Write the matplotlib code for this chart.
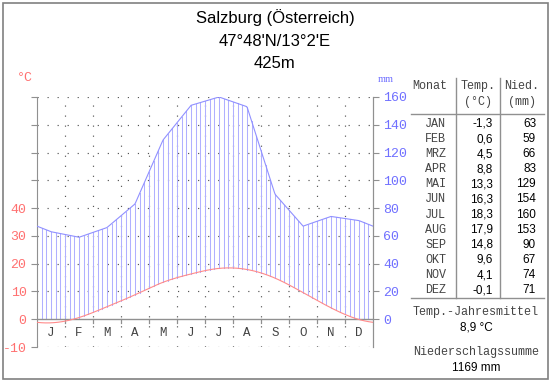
import matplotlib
matplotlib.use("Agg")
import matplotlib.pyplot as plt
import numpy as np

# climate data Salzburg
station = "Salzburg (Österreich)"
coords = "47°48'N/13°2'E"
height = "425m"
months = ["JAN", "FEB", "MRZ", "APR", "MAI", "JUN", "JUL", "AUG", "SEP", "OKT", "NOV", "DEZ"]
month_letters = ["J", "F", "M", "A", "M", "J", "J", "A", "S", "O", "N", "D"]
temp = [-1.3, 0.6, 4.5, 8.8, 13.3, 16.3, 18.3, 17.9, 14.8, 9.6, 4.1, -0.1]
prec = [63, 59, 66, 83, 129, 154, 160, 153, 90, 67, 74, 71]
temp_mean = "8,9 °C"
prec_sum = "1169 mm"

RED = "#ff7070"
BLUE = "#7070ff"
GRAY = "#909090"
MONO = "Liberation Mono"
SANS = "Liberation Sans"

W, H = 550, 382


def px(x, y):
    # pixel coords (top-left origin) -> figure fraction
    return x / W, 1 - y / H


def periodic_spline(y, xs):
    # cyclic cubic spline through month centres (uniform spacing 1, period 12)
    y = np.asarray(y, dtype=float)
    n = len(y)
    A = np.zeros((n, n))
    b = np.zeros(n)
    for i in range(n):
        A[i, i] = 4
        A[i, (i - 1) % n] = 1
        A[i, (i + 1) % n] = 1
        b[i] = 6 * (y[(i + 1) % n] - 2 * y[i] + y[(i - 1) % n])
    M = np.linalg.solve(A, b)
    out = []
    for x in xs:
        t = (x - 0.5) % n
        i = int(np.floor(t))
        j = (i + 1) % n
        u = t - i
        v = 1 - u
        out.append(M[i] * v**3 / 6 + M[j] * u**3 / 6 + (y[i] - M[i] / 6) * v + (y[j] - M[j] / 6) * u)
    return np.array(out)


fig = plt.figure(figsize=(5.5, 3.82), dpi=100)
ax = fig.add_axes([37 / W, 35 / H, 336 / W, 250 / H])
ax.set_xlim(0, 12)
ax.set_ylim(-10, 80)

centres = np.arange(12) + 0.5
xs = np.linspace(0, 12, 400)
t_curve = periodic_spline(temp, xs)
p_half = np.array(prec) / 2.0  # 20 mm = 10 °C

# grid (dotted, ~9 px between dots)
dots = (0, (1, 7.5))
for lev in range(-10, 81, 10):
    if lev != 0:
        ax.plot([0, 12], [lev, lev], color="#555555", lw=0.85, ls=dots, zorder=1)
for m in range(1, 12):
    ax.plot([m, m], [-10, 80], color="#555555", lw=0.85, ls=dots, zorder=1)

# humid hatch
hx = np.arange(0, 73) / 6.0
ht = periodic_spline(temp, hx)
hp = np.interp(hx, centres, p_half, period=12)
for x, t, p in zip(hx, ht, hp):
    lo = max(t, 0)
    if p > lo:
        ax.plot([x, x], [lo, p], color="#b0b0ff", lw=0.75, zorder=2)

ax.plot(xs, np.interp(xs, centres, p_half, period=12), color="#9090ff", lw=0.8, zorder=3)
ax.plot([0, 12], [0, 0], color=GRAY, lw=1, zorder=3)
ax.plot(xs, t_curve, color="#ff8a8a", lw=0.8, zorder=4)

# month ticks and letters
for m in range(1, 12):
    ax.plot([m, m], [0, -1.5], color=GRAY, lw=0.9, zorder=3)
for i, lab in enumerate(month_letters):
    ax.text(i + 0.5, -5, lab, ha="center", va="center", family=MONO, fontsize=9, color="#444444")

for s in ["top", "bottom"]:
    ax.spines[s].set_visible(False)
for s in ["left", "right"]:
    ax.spines[s].set_color(GRAY)
ax.set_xticks([])
ax.set_yticks(range(-10, 81, 10))
ax.set_yticklabels([str(v) if v <= 40 else "" for v in range(-10, 81, 10)])
ax.tick_params(axis="y", colors=GRAY, labelcolor=RED, length=4, labelsize=9.5)
for lab in ax.get_yticklabels():
    lab.set_family(MONO)

ax2 = ax.twinx()
ax2.set_ylim(-20, 160)
ax2.set_yticks(range(0, 161, 20))
ax2.tick_params(axis="y", colors=GRAY, labelcolor=BLUE, length=4, labelsize=9.5)
for lab in ax2.get_yticklabels():
    lab.set_family(MONO)
for s in ["top", "bottom", "left"]:
    ax2.spines[s].set_visible(False)
ax2.spines["right"].set_color(GRAY)

fig.text(*px(25, 78), "°C", color=RED, family=MONO, fontsize=9.5, ha="center", va="center")
fig.text(*px(386, 80), "mm", color=BLUE, family="Liberation Serif", fontsize=7.5, ha="center", va="center")

# title
fig.text(*px(275, 18), station, ha="center", va="center", family=SANS, fontsize=12)
fig.text(*px(275, 42), coords, ha="center", va="center", family=SANS, fontsize=12)
fig.text(*px(275, 63), height, ha="center", va="center", family=SANS, fontsize=12)

# table
def fline(x0, y0, x1, y1):
    fig.add_artist(plt.Line2D([x0 / W, x1 / W], [1 - y0 / H, 1 - y1 / H], color=GRAY, lw=1))

fline(456, 78, 456, 298)
fline(500, 78, 500, 298)
fline(411, 114, 544, 114)
fline(411, 298, 544, 298)

tc = "#444444"
tsz = 8.5
fig.text(*px(412, 86), "Monat", family=MONO, fontsize=tsz, color=tc, va="center")
fig.text(*px(478, 86), "Temp.", family=MONO, fontsize=tsz, color=tc, va="center", ha="center")
fig.text(*px(478, 102), "(°C)", family=MONO, fontsize=tsz, color=tc, va="center", ha="center")
fig.text(*px(522, 86), "Nied.", family=MONO, fontsize=tsz, color=tc, va="center", ha="center")
fig.text(*px(522, 102), "(mm)", family=MONO, fontsize=tsz, color=tc, va="center", ha="center")
for i, (m, t, p) in enumerate(zip(months, temp, prec)):
    y = 124 + i * 15.1
    fig.text(*px(446, y), m, family=MONO, fontsize=tsz, color=tc, va="center", ha="right")
    fig.text(*px(493, y), ("%.1f" % t).replace(".", ","), family=SANS, fontsize=8.5, va="center", ha="right")
    fig.text(*px(536, y), str(p), family=SANS, fontsize=8.5, va="center", ha="right")

fig.text(*px(476, 312), "Temp.-Jahresmittel", family=MONO, fontsize=tsz, color=tc, va="center", ha="center")
fig.text(*px(476, 328), temp_mean, family=SANS, fontsize=8.5, va="center", ha="center")
fig.text(*px(476, 352), "Niederschlagssumme", family=MONO, fontsize=tsz, color=tc, va="center", ha="center")
fig.text(*px(476, 368), prec_sum, family=SANS, fontsize=8.5, va="center", ha="center")

# outer frame
fig.add_artist(plt.Rectangle((3 / W, 3 / H), 545 / W, 376 / H, fill=False, ec="#808080", lw=1.2))

fig.savefig("out.png", dpi=100)
